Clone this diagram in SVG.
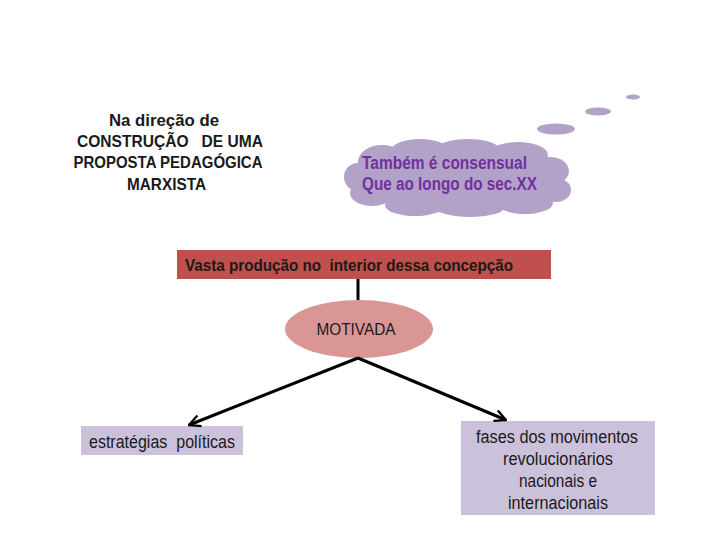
<svg xmlns="http://www.w3.org/2000/svg" width="728" height="546" viewBox="0 0 728 546">
<style>
  .t { font-family: "Liberation Sans", Arial, sans-serif; fill: #1a1a1a; }
  .b { font-weight: bold; }
  .cloud { fill: #b3a2c7; }
  .box { fill: #ccc1da; }
  .conn { stroke: #000; stroke-width: 3; fill: none; }
</style>
<defs>
  <marker id="arr" viewBox="0 0 12 12" refX="11" refY="6" markerWidth="4.5" markerHeight="4.5" markerUnits="strokeWidth" orient="auto">
    <path d="M1,1 L11,6 L1,11" fill="none" stroke="#000" stroke-width="2"/>
  </marker>
</defs>
<rect width="728" height="546" fill="#fff"/>

<g id="title">
  <text class="t b" font-size="16.5" text-anchor="middle" xml:space="preserve"><tspan x="164" y="126" textLength="110" lengthAdjust="spacingAndGlyphs">Na direção de</tspan><tspan x="170" y="147" textLength="186" lengthAdjust="spacingAndGlyphs">CONSTRUÇÃO   DE UMA</tspan><tspan x="168" y="168" textLength="189" lengthAdjust="spacingAndGlyphs">PROPOSTA PEDAGÓGICA</tspan><tspan x="166.5" y="190" textLength="79" lengthAdjust="spacingAndGlyphs">MARXISTA</tspan></text>
</g>

<g id="cloud">
  <g class="cloud">
    <ellipse cx="460" cy="180" rx="100" ry="32"/>
    <ellipse cx="382" cy="162" rx="24" ry="17"/>
    <ellipse cx="420" cy="152" rx="30" ry="13"/>
    <ellipse cx="468" cy="150" rx="32" ry="11"/>
    <ellipse cx="518" cy="155" rx="30" ry="13"/>
    <ellipse cx="550" cy="171" rx="19" ry="14"/>
    <ellipse cx="556" cy="190" rx="15" ry="12"/>
    <ellipse cx="525" cy="203" rx="28" ry="11"/>
    <ellipse cx="470" cy="208" rx="34" ry="9"/>
    <ellipse cx="415" cy="205" rx="30" ry="11"/>
    <ellipse cx="372" cy="193" rx="22" ry="13"/>
    <ellipse cx="358" cy="177" rx="14" ry="14"/>
    <ellipse cx="556" cy="129" rx="19" ry="5.5"/>
    <ellipse cx="598" cy="111.5" rx="13" ry="4"/>
    <ellipse cx="633" cy="97" rx="7" ry="2.5"/>
  </g>
  <text class="t b" font-size="18" style="fill:#7030a0"><tspan x="362" y="169" textLength="165" lengthAdjust="spacingAndGlyphs">Também é consensual</tspan><tspan x="362" y="190" textLength="175" lengthAdjust="spacingAndGlyphs">Que ao longo do sec.XX</tspan></text>
</g>

<g id="vasta">
  <rect x="177" y="250" width="374" height="29" fill="#c0504d"/>
  <text class="t b" font-size="16.5" x="185" y="271" xml:space="preserve" textLength="328" lengthAdjust="spacingAndGlyphs">Vasta produção no  interior dessa concepção</text>
</g>

<g id="motivada">
  <ellipse cx="359" cy="329" rx="74" ry="29" fill="#d99694"/>
  <text class="t" font-size="16" x="356" y="335" text-anchor="middle" textLength="79" lengthAdjust="spacingAndGlyphs">MOTIVADA</text>
</g>

<g id="estrategias">
  <rect class="box" x="81" y="426" width="162" height="29"/>
  <text class="t" font-size="17.5" x="89" y="448" xml:space="preserve" textLength="146" lengthAdjust="spacingAndGlyphs">estratégias  políticas</text>
</g>

<g id="fases">
  <rect class="box" x="461" y="421" width="194" height="94"/>
  <text class="t" font-size="17.5" text-anchor="middle"><tspan x="557" y="443" textLength="162" lengthAdjust="spacingAndGlyphs">fases dos movimentos</tspan><tspan x="558" y="465" textLength="110" lengthAdjust="spacingAndGlyphs">revolucionários</tspan><tspan x="558" y="487" textLength="78" lengthAdjust="spacingAndGlyphs">nacionais e</tspan><tspan x="558" y="509" textLength="100" lengthAdjust="spacingAndGlyphs">internacionais</tspan></text>
</g>

<g id="connectors">
  <line class="conn" x1="358" y1="279" x2="358" y2="300"/>
  <line class="conn" x1="358" y1="358" x2="189" y2="425" marker-end="url(#arr)"/>
  <line class="conn" x1="358" y1="358" x2="506" y2="420" marker-end="url(#arr)"/>
</g>
</svg>
